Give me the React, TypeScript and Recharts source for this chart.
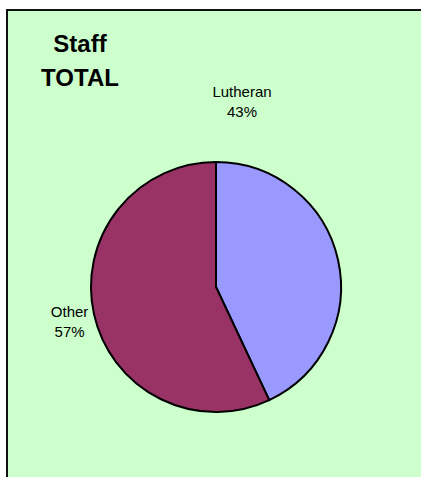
import { PieChart, Pie, Cell } from "recharts";

const labels = ["Lutheran", "Other"];
const values = [43, 57];
const colors = ["#9999FF", "#993366"];

const data = labels.map((name, i) => ({ name, value: values[i] }));

const font = "'Liberation Sans', Arial, sans-serif";

function renderLabel(props: any) {
  const { cx, cy, outerRadius, midAngle, index, percent, name } = props;
  let x: number;
  let y: number;
  if (index === 0) {
    // Excel "best fit" put this one above the pie
    x = cx + 26;
    y = cy - outerRadius - 65;
  } else {
    const rad = (Math.PI / 180) * midAngle;
    const r = outerRadius + 25;
    x = cx + r * Math.cos(rad);
    y = cy - r * Math.sin(rad) - 3;
  }
  return (
    <text x={x} y={y} textAnchor="middle" fontFamily={font} fontSize={15} fill="#000">
      <tspan x={x} dy={0}>{name}</tspan>
      <tspan x={x} dy={20}>{`${Math.round(percent * 100)}%`}</tspan>
    </text>
  );
}

export default function App() {
  return (
    <div style={{ position: "absolute", left: 0, top: 0, width: 421, height: 477, overflow: "hidden", background: "#fff" }}>
      <div
        style={{
          position: "absolute",
          left: 6,
          top: 9,
          width: 700,
          height: 700,
          background: "#CCFFCC",
          borderLeft: "2px solid #111",
          borderTop: "2px solid #111",
          boxSizing: "border-box",
        }}
      />
      <div
        style={{
          position: "absolute",
          left: 20,
          top: 27,
          width: 120,
          textAlign: "center",
          fontFamily: font,
          fontWeight: "bold",
          fontSize: 24,
          lineHeight: "34px",
          color: "#000",
        }}
      >
        Staff
        <br />
        TOTAL
      </div>
      <div style={{ position: "absolute", left: 0, top: 0 }}>
        <PieChart width={421} height={477} margin={{ top: 0, right: 0, bottom: 0, left: 0 }}>
          <Pie
            data={data}
            dataKey="value"
            nameKey="name"
            cx={216}
            cy={287}
            outerRadius={125}
            startAngle={90}
            endAngle={-270}
            stroke="#000"
            strokeWidth={2}
            label={renderLabel}
            labelLine={false}
            isAnimationActive={false}
          >
            {data.map((d, i) => (
              <Cell key={d.name} fill={colors[i]} />
            ))}
          </Pie>
        </PieChart>
      </div>
    </div>
  );
}
